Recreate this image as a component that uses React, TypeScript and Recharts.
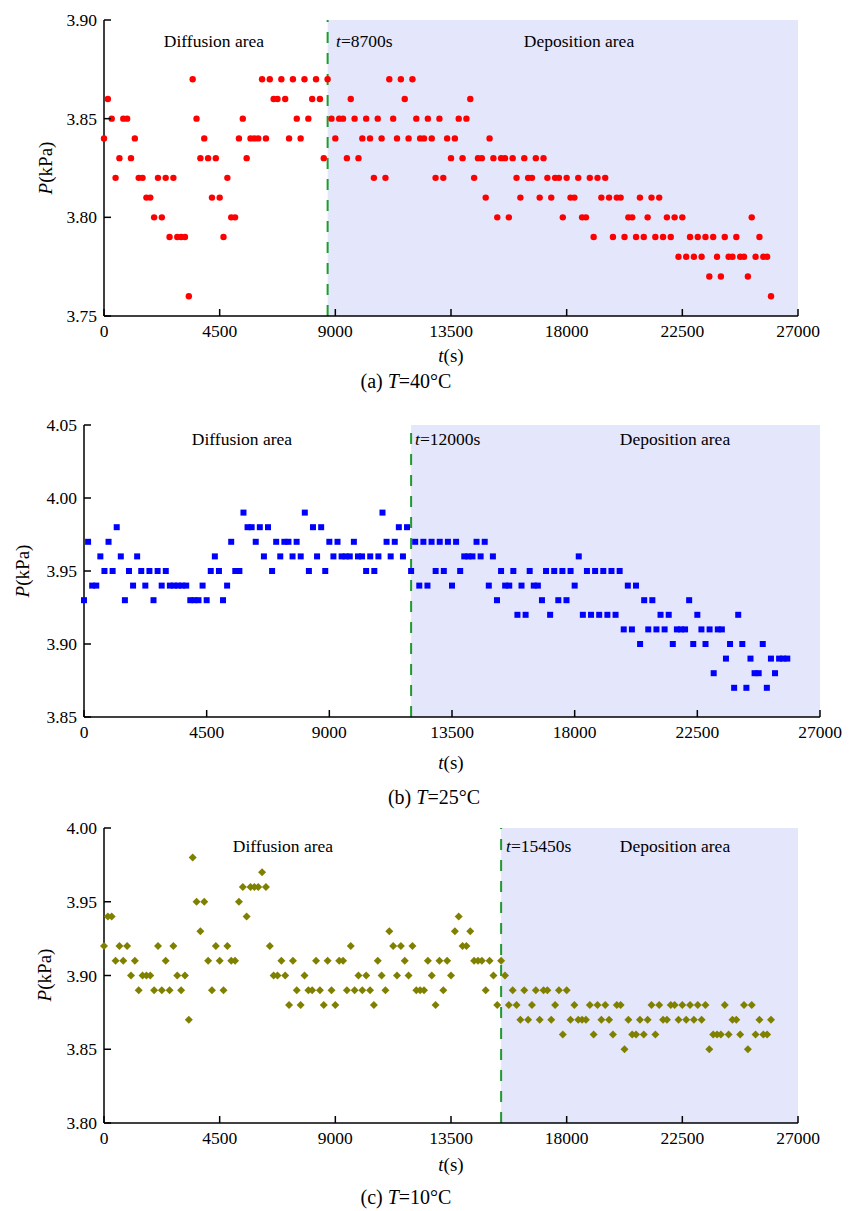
import React from 'react'
import { ScatterChart, Scatter, XAxis, YAxis, ReferenceArea, ReferenceLine } from 'recharts'

// Pressure vs time at three temperatures, diffusion / deposition split

const FONT = '"Liberation Serif", "Times New Roman", serif'

// sampling times (s), shared by the three runs
const timeS = [
  0, 150, 300, 450, 600, 750, 900, 1050, 1200, 1350,
  1500, 1650, 1800, 1950, 2100, 2250, 2400, 2550, 2700, 2850,
  3000, 3150, 3300, 3450, 3600, 3750, 3900, 4050, 4200, 4350,
  4500, 4650, 4800, 4950, 5100, 5250, 5400, 5550, 5700, 5850,
  6000, 6150, 6300, 6450, 6600, 6750, 6900, 7050, 7200, 7350,
  7500, 7650, 7800, 7950, 8100, 8250, 8400, 8550, 8700, 8850,
  9000, 9150, 9300, 9450, 9600, 9750, 9900, 10050, 10200, 10350,
  10500, 10650, 10800, 10950, 11100, 11250, 11400, 11550, 11700, 11850,
  12000, 12150, 12300, 12450, 12600, 12750, 12900, 13050, 13200, 13350,
  13500, 13650, 13800, 13950, 14100, 14250, 14400, 14550, 14700, 14850,
  15000, 15150, 15300, 15450, 15600, 15750, 15900, 16050, 16200, 16350,
  16500, 16650, 16800, 16950, 17100, 17250, 17400, 17550, 17700, 17850,
  18000, 18150, 18300, 18450, 18600, 18750, 18900, 19050, 19200, 19350,
  19500, 19650, 19800, 19950, 20100, 20250, 20400, 20550, 20700, 20850,
  21000, 21150, 21300, 21450, 21600, 21750, 21900, 22050, 22200, 22350,
  22500, 22650, 22800, 22950, 23100, 23250, 23400, 23550, 23700, 23850,
  24000, 24150, 24300, 24450, 24600, 24750, 24900, 25050, 25200, 25350,
  25500, 25650, 25800, 25950,
]

// T = 40°C (kPa)
const p40 = [
  3.84, 3.86, 3.85, 3.82, 3.83, 3.85, 3.85, 3.83, 3.84, 3.82,
  3.82, 3.81, 3.81, 3.80, 3.82, 3.80, 3.82, 3.79, 3.82, 3.79,
  3.79, 3.79, 3.76, 3.87, 3.85, 3.83, 3.84, 3.83, 3.81, 3.83,
  3.81, 3.79, 3.82, 3.80, 3.80, 3.84, 3.85, 3.83, 3.84, 3.84,
  3.84, 3.87, 3.84, 3.87, 3.86, 3.86, 3.87, 3.86, 3.84, 3.87,
  3.85, 3.84, 3.87, 3.85, 3.86, 3.87, 3.86, 3.83, 3.87, 3.85,
  3.84, 3.85, 3.85, 3.83, 3.86, 3.85, 3.83, 3.84, 3.85, 3.84,
  3.82, 3.85, 3.84, 3.82, 3.87, 3.85, 3.84, 3.87, 3.86, 3.84,
  3.87, 3.85, 3.84, 3.84, 3.85, 3.84, 3.82, 3.85, 3.82, 3.84,
  3.83, 3.84, 3.85, 3.83, 3.85, 3.86, 3.82, 3.83, 3.83, 3.81,
  3.84, 3.83, 3.80, 3.83, 3.83, 3.80, 3.83, 3.82, 3.81, 3.83,
  3.82, 3.82, 3.83, 3.81, 3.83, 3.82, 3.81, 3.82, 3.82, 3.80,
  3.82, 3.81, 3.81, 3.82, 3.80, 3.80, 3.82, 3.79, 3.82, 3.81,
  3.82, 3.81, 3.79, 3.81, 3.81, 3.79, 3.80, 3.80, 3.79, 3.81,
  3.79, 3.80, 3.81, 3.79, 3.81, 3.79, 3.80, 3.79, 3.80, 3.78,
  3.80, 3.78, 3.79, 3.78, 3.79, 3.78, 3.79, 3.77, 3.79, 3.78,
  3.77, 3.79, 3.78, 3.78, 3.79, 3.78, 3.78, 3.77, 3.80, 3.78,
  3.79, 3.78, 3.78, 3.76,
]

// T = 25°C (kPa)
const p25 = [
  3.93, 3.97, 3.94, 3.94, 3.96, 3.95, 3.97, 3.95, 3.98, 3.96,
  3.93, 3.95, 3.94, 3.96, 3.95, 3.94, 3.95, 3.93, 3.95, 3.94,
  3.95, 3.94, 3.94, 3.94, 3.94, 3.94, 3.93, 3.93, 3.93, 3.94,
  3.93, 3.95, 3.96, 3.95, 3.93, 3.94, 3.97, 3.95, 3.95, 3.99,
  3.98, 3.98, 3.97, 3.98, 3.96, 3.98, 3.95, 3.97, 3.96, 3.97,
  3.97, 3.96, 3.97, 3.96, 3.99, 3.95, 3.98, 3.96, 3.98, 3.95,
  3.97, 3.96, 3.97, 3.96, 3.96, 3.96, 3.97, 3.96, 3.96, 3.95,
  3.96, 3.95, 3.96, 3.99, 3.97, 3.96, 3.97, 3.98, 3.96, 3.98,
  3.95, 3.97, 3.94, 3.97, 3.94, 3.97, 3.95, 3.97, 3.95, 3.97,
  3.94, 3.97, 3.95, 3.96, 3.96, 3.96, 3.97, 3.96, 3.97, 3.94,
  3.96, 3.93, 3.95, 3.94, 3.94, 3.95, 3.92, 3.94, 3.92, 3.95,
  3.94, 3.94, 3.93, 3.95, 3.92, 3.95, 3.93, 3.95, 3.93, 3.95,
  3.94, 3.96, 3.92, 3.95, 3.92, 3.95, 3.92, 3.95, 3.92, 3.95,
  3.92, 3.95, 3.91, 3.94, 3.91, 3.94, 3.90, 3.93, 3.91, 3.93,
  3.91, 3.92, 3.91, 3.92, 3.90, 3.91, 3.91, 3.91, 3.93, 3.90,
  3.92, 3.91, 3.90, 3.91, 3.88, 3.91, 3.91, 3.89, 3.90, 3.87,
  3.92, 3.90, 3.87, 3.89, 3.88, 3.88, 3.90, 3.87, 3.89, 3.88,
  3.89, 3.89, 3.89,
]

// T = 10°C (kPa)
const p10 = [
  3.92, 3.94, 3.94, 3.91, 3.92, 3.91, 3.92, 3.90, 3.91, 3.89,
  3.90, 3.90, 3.90, 3.89, 3.92, 3.89, 3.91, 3.89, 3.92, 3.90,
  3.89, 3.90, 3.87, 3.98, 3.95, 3.93, 3.95, 3.91, 3.89, 3.92,
  3.91, 3.89, 3.92, 3.91, 3.91, 3.95, 3.96, 3.94, 3.96, 3.96,
  3.96, 3.97, 3.96, 3.92, 3.90, 3.90, 3.91, 3.90, 3.88, 3.91,
  3.89, 3.88, 3.90, 3.89, 3.89, 3.91, 3.89, 3.88, 3.91, 3.89,
  3.88, 3.91, 3.91, 3.89, 3.92, 3.89, 3.90, 3.89, 3.90, 3.89,
  3.88, 3.91, 3.90, 3.89, 3.93, 3.92, 3.90, 3.92, 3.91, 3.90,
  3.92, 3.89, 3.89, 3.89, 3.91, 3.90, 3.88, 3.91, 3.89, 3.91,
  3.90, 3.93, 3.94, 3.92, 3.92, 3.93, 3.91, 3.91, 3.91, 3.89,
  3.91, 3.90, 3.88, 3.91, 3.90, 3.88, 3.89, 3.88, 3.87, 3.89,
  3.87, 3.88, 3.89, 3.87, 3.89, 3.89, 3.87, 3.88, 3.89, 3.86,
  3.89, 3.87, 3.88, 3.87, 3.87, 3.87, 3.88, 3.86, 3.88, 3.87,
  3.88, 3.87, 3.86, 3.88, 3.88, 3.85, 3.87, 3.86, 3.86, 3.87,
  3.86, 3.87, 3.88, 3.86, 3.88, 3.87, 3.87, 3.88, 3.88, 3.87,
  3.88, 3.87, 3.88, 3.87, 3.88, 3.87, 3.88, 3.85, 3.86, 3.86,
  3.86, 3.88, 3.86, 3.87, 3.87, 3.86, 3.88, 3.85, 3.88, 3.86,
  3.87, 3.86, 3.86, 3.87,
]

const xTicks = [0, 4500, 9000, 13500, 18000, 22500, 27000]
const yTicks40 = [3.75, 3.8, 3.85, 3.9]
const yTicks25 = [3.85, 3.9, 3.95, 4.0, 4.05]
const yTicks10 = [3.8, 3.85, 3.9, 3.95, 4.0]
const splitTimes = [8700, 12000, 15450]

const toPoints = (vals: number[]) => vals.map((p, i) => ({ t: timeS[i], p }))

const SHADE = '#E4E6FB'
const DASH = '#1E9B2D'
const TICK_FS = 17.5

const XTick = (props: any) => {
  const { x, y, payload } = props
  return (
    <g>
      <line x1={x} y1={y} x2={x} y2={y - 7} stroke="#000" strokeWidth={1.5} />
      <text x={x} y={y + 21} textAnchor="middle" fontSize={TICK_FS} fontFamily={FONT} fill="#000">
        {payload.value}
      </text>
    </g>
  )
}

const YTick = (props: any) => {
  const { x, y, payload } = props
  return (
    <g>
      <line x1={x} y1={y} x2={x + 7} y2={y} stroke="#000" strokeWidth={1.5} />
      <text x={x - 7} y={y + 6} textAnchor="end" fontSize={TICK_FS} fontFamily={FONT} fill="#000">
        {Number(payload.value).toFixed(2)}
      </text>
    </g>
  )
}

const RedDot = (props: any) => <circle cx={props.cx} cy={props.cy} r={3.2} fill="#FF0000" />
const BlueSquare = (props: any) => (
  <rect x={props.cx - 3} y={props.cy - 3} width={6} height={6} fill="#0000FF" />
)
const OliveDiamond = (props: any) => {
  const { cx, cy } = props
  return <polygon points={`${cx - 4},${cy} ${cx},${cy - 4} ${cx + 4},${cy} ${cx},${cy + 4}`} fill="#808000" />
}

interface PanelProps {
  plotTop: number
  plotBottom: number
  plotLeft: number
  plotRight: number
  data: { t: number; p: number }[]
  yDomain: [number, number]
  yTicks: number[]
  split: number
  shape: any
}

function Panel({ plotTop, plotBottom, plotLeft, plotRight, data, yDomain, yTicks, split, shape }: PanelProps) {
  const axisStyle = { stroke: '#000', strokeWidth: 1.5 }
  return (
    <div style={{ position: 'absolute', left: 0, top: plotTop - 10 }}>
      <ScatterChart
        width={859}
        height={plotBottom - plotTop + 50}
        margin={{ top: 10, right: 859 - plotRight, bottom: 0, left: 0 }}
      >
        <ReferenceArea x1={split} x2={27000} fill={SHADE} fillOpacity={1} stroke="none" />
        <XAxis
          type="number"
          dataKey="t"
          domain={[0, 27000]}
          ticks={xTicks}
          interval={0}
          height={40}
          tickSize={0}
          tickMargin={0}
          tickLine={false}
          axisLine={axisStyle}
          tick={<XTick />}
        />
        <YAxis
          type="number"
          dataKey="p"
          domain={yDomain}
          ticks={yTicks}
          interval={0}
          width={plotLeft}
          tickSize={0}
          tickMargin={0}
          tickLine={false}
          axisLine={axisStyle}
          tick={<YTick />}
        />
        <ReferenceLine x={split} stroke={DASH} strokeWidth={2} strokeDasharray="11 10" />
        <Scatter data={data} shape={shape} isAnimationActive={false} />
      </ScatterChart>
    </div>
  )
}

const it = { fontStyle: 'italic' as const }

export default function App() {
  return (
    <div style={{ position: 'absolute', left: 0, top: 0, width: 859, height: 1211, background: '#fff' }}>
      <Panel plotTop={20} plotBottom={316} plotLeft={104} plotRight={798} data={toPoints(p40)}
        yDomain={[3.75, 3.9]} yTicks={yTicks40} split={splitTimes[0]} shape={RedDot} />
      <Panel plotTop={425} plotBottom={717} plotLeft={84} plotRight={820} data={toPoints(p25)}
        yDomain={[3.85, 4.05]} yTicks={yTicks25} split={splitTimes[1]} shape={BlueSquare} />
      <Panel plotTop={828} plotBottom={1123} plotLeft={104} plotRight={798} data={toPoints(p10)}
        yDomain={[3.8, 4.0]} yTicks={yTicks10} split={splitTimes[2]} shape={OliveDiamond} />

      <svg width={859} height={1211} style={{ position: 'absolute', left: 0, top: 0, pointerEvents: 'none' }}
        fontFamily={FONT} fill="#000">
        {/* (a) */}
        <text x={214} y={47} textAnchor="middle" fontSize={17.5}>Diffusion area</text>
        <text x={336} y={47} fontSize={17.5}><tspan style={it}>t</tspan>=8700s</text>
        <text x={579} y={47} textAnchor="middle" fontSize={17.5}>Deposition area</text>
        <text transform="translate(52,168) rotate(-90)" textAnchor="middle" fontSize={19}>
          <tspan style={it}>P</tspan>(kPa)
        </text>
        <text x={451} y={362} textAnchor="middle" fontSize={19}><tspan style={it}>t</tspan>(s)</text>
        <text x={406} y={388} textAnchor="middle" fontSize={20}>(a) <tspan style={it}>T</tspan>=40°C</text>

        {/* (b) */}
        <text x={242} y={445} textAnchor="middle" fontSize={17.5}>Diffusion area</text>
        <text x={415} y={445} fontSize={17.5}><tspan style={it}>t</tspan>=12000s</text>
        <text x={675} y={445} textAnchor="middle" fontSize={17.5}>Deposition area</text>
        <text transform="translate(29,571) rotate(-90)" textAnchor="middle" fontSize={19}>
          <tspan style={it}>P</tspan>(kPa)
        </text>
        <text x={451} y={769} textAnchor="middle" fontSize={19}><tspan style={it}>t</tspan>(s)</text>
        <text x={434} y={804} textAnchor="middle" fontSize={20}>(b) <tspan style={it}>T</tspan>=25°C</text>

        {/* (c) */}
        <text x={283} y={852} textAnchor="middle" fontSize={17.5}>Diffusion area</text>
        <text x={506} y={852} fontSize={17.5}><tspan style={it}>t</tspan>=15450s</text>
        <text x={675} y={852} textAnchor="middle" fontSize={17.5}>Deposition area</text>
        <text transform="translate(51,975) rotate(-90)" textAnchor="middle" fontSize={19}>
          <tspan style={it}>P</tspan>(kPa)
        </text>
        <text x={451} y={1171} textAnchor="middle" fontSize={19}><tspan style={it}>t</tspan>(s)</text>
        <text x={406} y={1204} textAnchor="middle" fontSize={20}>(c) <tspan style={it}>T</tspan>=10°C</text>
      </svg>
    </div>
  )
}
